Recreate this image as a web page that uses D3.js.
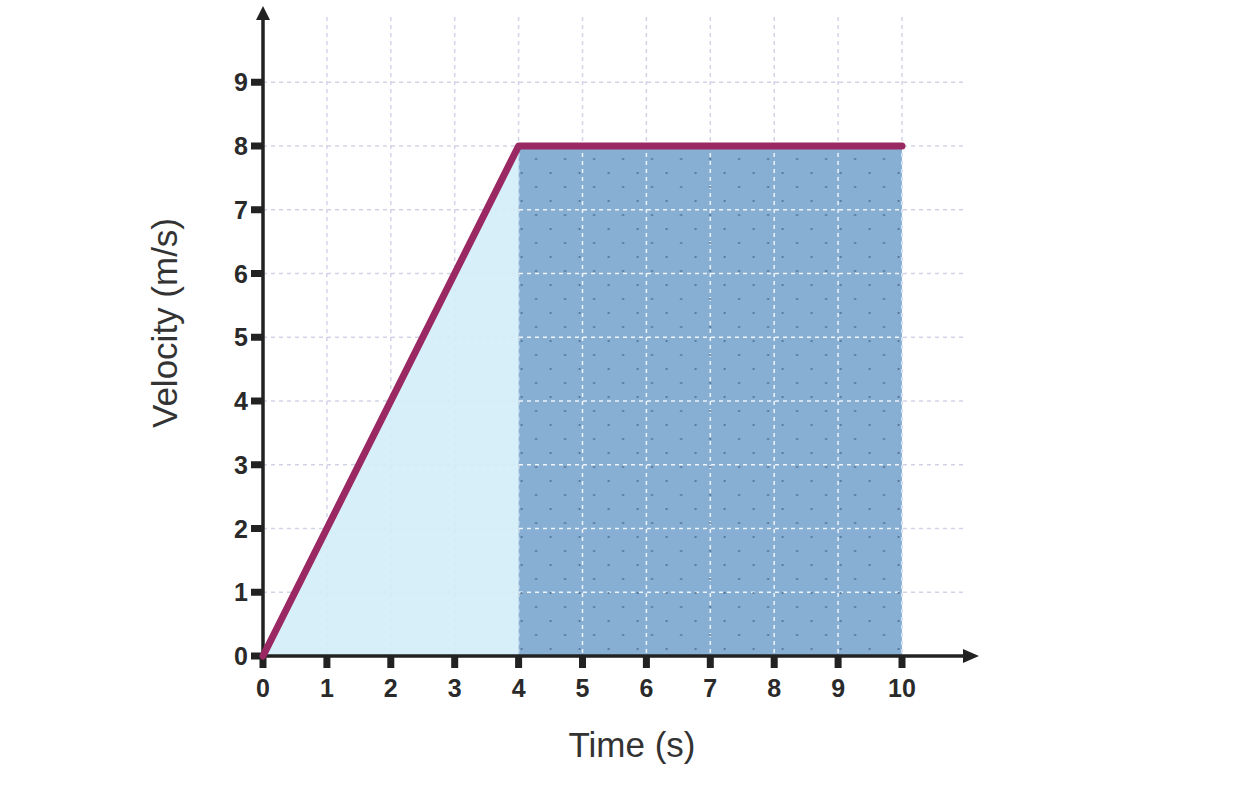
<!DOCTYPE html>
<html>
<head>
<meta charset="utf-8">
<script src="https://cdn.jsdelivr.net/npm/d3@7"></script>
<style>
  body { margin: 0; background: #fff; }
  svg { display: block; }
</style>
</head>
<body>
<div id="chart"></div>
<script>
// data
var timeValues = [0, 4, 10];
var velocityValues = [0, 8, 8];
var xTicks = [0, 1, 2, 3, 4, 5, 6, 7, 8, 9, 10];
var yTicks = [0, 1, 2, 3, 4, 5, 6, 7, 8, 9];
var accelEnd = 4;   // end of the triangle region
var stopTime = 10;  // end of the rectangle region

var W = 1234, H = 790;

var svg = d3.select("#chart")
  .append("svg")
    .attr("width", W)
    .attr("height", H);

var x = d3.scaleLinear().domain([0, 10]).range([263, 902]);
var y = d3.scaleLinear().domain([0, 10]).range([656, 18.5]);

var data = timeValues.map(function(t, i) { return {t: t, v: velocityValues[i]}; });

// dot pattern for the rectangle
var defs = svg.append("defs");
var pat = defs.append("pattern")
  .attr("id", "dots")
  .attr("patternUnits", "userSpaceOnUse")
  .attr("x", x(accelEnd) + 3)
  .attr("y", y(8) + 13)
  .attr("width", 29)
  .attr("height", 28);
pat.append("circle").attr("cx", 14.5).attr("cy", 0).attr("r", 1.1).attr("fill", "#4f6f8f");
pat.append("circle").attr("cx", 0).attr("cy", 14).attr("r", 1.1).attr("fill", "#4f6f8f");
pat.append("circle").attr("cx", 29).attr("cy", 14).attr("r", 1.1).attr("fill", "#4f6f8f");
pat.append("circle").attr("cx", 14.5).attr("cy", 28).attr("r", 1.1).attr("fill", "#4f6f8f");

defs.append("clipPath").attr("id", "rectClip")
  .append("rect")
    .attr("x", x(accelEnd))
    .attr("y", y(8))
    .attr("width", x(stopTime) - x(accelEnd))
    .attr("height", y(0) - y(8));

// grid
function drawGrid(g, color) {
  g.selectAll(".vgrid")
    .data(xTicks.filter(function(d) { return d > 0; }))
    .enter().append("line")
      .attr("x1", function(d) { return x(d); })
      .attr("x2", function(d) { return x(d); })
      .attr("y1", 17)
      .attr("y2", y(0))
      .attr("stroke", color)
      .attr("stroke-width", 1.5)
      .attr("stroke-dasharray", "4,4");
  g.selectAll(".hgrid")
    .data(yTicks.filter(function(d) { return d > 0; }))
    .enter().append("line")
      .attr("x1", x(0))
      .attr("x2", 966)
      .attr("y1", function(d) { return y(d); })
      .attr("y2", function(d) { return y(d); })
      .attr("stroke", color)
      .attr("stroke-width", 1.5)
      .attr("stroke-dasharray", "4,4");
}
drawGrid(svg.append("g"), "#d3d3e8");

// triangle area (acceleration)
var area = d3.area()
  .x(function(d) { return x(d.t); })
  .y0(y(0))
  .y1(function(d) { return y(d.v); });

svg.append("path")
  .datum(data.filter(function(d) { return d.t <= accelEnd; }))
  .attr("d", area)
  .attr("fill", "#d3edf7")
  .attr("fill-opacity", 0.9);

// rectangle area (constant velocity)
var rectData = data.filter(function(d) { return d.t >= accelEnd; });
svg.append("path")
  .datum(rectData)
  .attr("d", area)
  .attr("fill", "#87aed3");

drawGrid(svg.append("g").attr("clip-path", "url(#rectClip)"), "#eef4fa");

svg.append("path")
  .datum(rectData)
  .attr("d", area)
  .attr("fill", "url(#dots)");

// axes
var axisColor = "#222";
svg.append("line")
  .attr("x1", x(0)).attr("x2", 970)
  .attr("y1", y(0)).attr("y2", y(0))
  .attr("stroke", axisColor).attr("stroke-width", 3.5);
svg.append("path")
  .attr("d", "M979," + y(0) + "L963," + (y(0) - 7) + "L963," + (y(0) + 7) + "Z")
  .attr("fill", axisColor);
svg.append("line")
  .attr("x1", x(0)).attr("x2", x(0))
  .attr("y1", y(0) + 1.5).attr("y2", 16)
  .attr("stroke", axisColor).attr("stroke-width", 3.5);
svg.append("path")
  .attr("d", "M" + x(0) + ",6L" + (x(0) - 7) + ",20L" + (x(0) + 7) + ",20Z")
  .attr("fill", axisColor);

// ticks
svg.selectAll(".xtick")
  .data(xTicks)
  .enter().append("rect")
    .attr("x", function(d) { return x(d) - 3.5; })
    .attr("y", y(0))
    .attr("width", 7)
    .attr("height", 12)
    .attr("fill", axisColor);
svg.selectAll(".ytick")
  .data(yTicks)
  .enter().append("rect")
    .attr("x", x(0) - 12)
    .attr("y", function(d) { return y(d) - 3.5; })
    .attr("width", 12)
    .attr("height", 7)
    .attr("fill", axisColor);

svg.selectAll(".xlabel")
  .data(xTicks)
  .enter().append("text")
    .attr("x", function(d) { return x(d); })
    .attr("y", 697)
    .attr("text-anchor", "middle")
    .style("font-family", "'Liberation Sans', Arial, sans-serif")
    .style("font-weight", "bold")
    .style("font-size", "25px")
    .style("fill", "#2a2a2a")
    .text(function(d) { return d; });
svg.selectAll(".ylabel")
  .data(yTicks)
  .enter().append("text")
    .attr("x", 248)
    .attr("y", function(d) { return y(d) + 9; })
    .attr("text-anchor", "end")
    .style("font-family", "'Liberation Sans', Arial, sans-serif")
    .style("font-weight", "bold")
    .style("font-size", "25px")
    .style("fill", "#2a2a2a")
    .text(function(d) { return d; });

// the line
svg.append("path")
  .datum(data)
  .attr("d", d3.line().x(function(d) { return x(d.t); }).y(function(d) { return y(d.v); }))
  .attr("fill", "none")
  .attr("stroke", "#9a2862")
  .attr("stroke-width", 7)
  .attr("stroke-linecap", "round")
  .attr("stroke-linejoin", "round");

// axis titles
svg.append("text")
  .attr("x", 632)
  .attr("y", 757)
  .attr("text-anchor", "middle")
  .style("font-family", "'Liberation Sans', Arial, sans-serif")
  .style("font-size", "35px")
  .style("fill", "#333")
  .text("Time (s)");
svg.append("text")
  .attr("transform", "translate(177,323)rotate(-90)")
  .attr("text-anchor", "middle")
  .style("font-family", "'Liberation Sans', Arial, sans-serif")
  .style("font-size", "35px")
  .style("fill", "#333")
  .text("Velocity (m/s)");
</script>
</body>
</html>
